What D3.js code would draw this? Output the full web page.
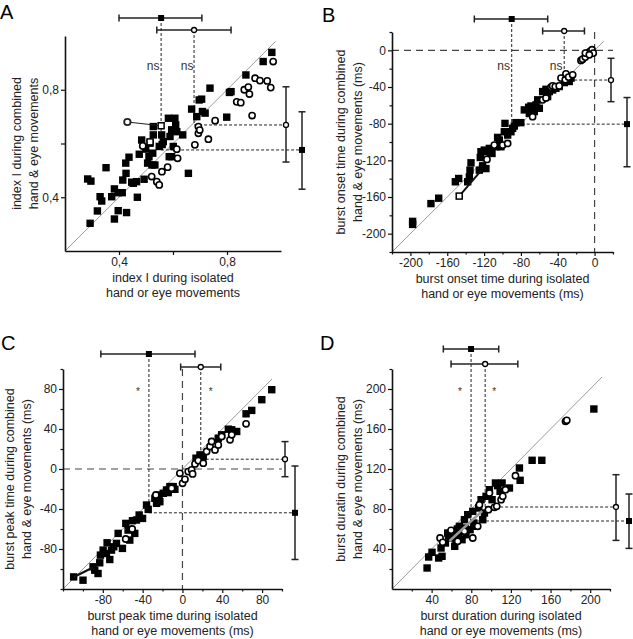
<!DOCTYPE html>
<html>
<head>
<meta charset="utf-8">
<script src="https://cdn.jsdelivr.net/npm/d3@7"></script>
<style>
  body { margin: 0; background: #fff; }
  svg { display: block; }
  text { font-family: "Liberation Sans", Arial, sans-serif; }
</style>
</head>
<body>
<svg id="chart" width="633" height="639"></svg>
<script>
// ---- panel A : index I ----
const aSquares = [[0.284,0.468],[0.296,0.460],[0.293,0.303],[0.320,0.349],[0.330,0.402],[0.336,0.386],[0.352,0.510],[0.373,0.402],[0.383,0.431],[0.397,0.350],[0.383,0.319],[0.397,0.417],[0.412,0.417],[0.414,0.464],[0.426,0.489],[0.425,0.527],[0.428,0.343],[0.437,0.549],[0.447,0.456],[0.453,0.452],[0.465,0.458],[0.468,0.400],[0.475,0.560],[0.484,0.613],[0.493,0.467],[0.499,0.579],[0.506,0.527],[0.511,0.551],[0.515,0.601],[0.522,0.520],[0.525,0.564],[0.527,0.663],[0.527,0.632],[0.533,0.520],[0.549,0.589],[0.558,0.632],[0.564,0.607],[0.583,0.694],[0.589,0.626],[0.595,0.651],[0.595,0.551],[0.607,0.694],[0.610,0.669],[0.614,0.644],[0.601,0.589],[0.636,0.632],[0.657,0.489],[0.669,0.728],[0.688,0.700],[0.697,0.762],[0.706,0.765],[0.709,0.719],[0.719,0.713],[0.737,0.806],[0.799,0.698],[0.809,0.790],[0.815,0.793],[0.870,0.855],[0.934,0.905],[0.966,0.939],[0.586,0.551],[0.560,0.596]];
const aCircles = [[0.488,0.591],[0.521,0.477],[0.540,0.458],[0.549,0.446],[0.559,0.495],[0.580,0.512],[0.614,0.579],[0.617,0.545],[0.681,0.595],[0.694,0.638],[0.694,0.663],[0.731,0.616],[0.756,0.685],[0.836,0.755],[0.851,0.752],[0.864,0.800],[0.879,0.810],[0.883,0.784],[0.893,0.704],[0.904,0.843],[0.922,0.834],[0.949,0.833],[0.962,0.808],[0.971,0.905],[0.699,0.650]];
const aOpenSquares = [[0.556,0.666],[0.515,0.606]];
const aLink = [[0.431,0.680],[0.556,0.666]];
// [x mean, x low, x high, y mean, y low, y high]
const aMeanSquares = [0.556,0.400,0.707,0.576,0.430,0.718];
const aMeanCircles = [0.678,0.540,0.815,0.669,0.531,0.811];
const aTicks = [0.4,0.6,0.8];
const aTickLabels = ["0,4","","0,8"];

// ---- panel B : burst onset ----
const bSquares = [[-197.6,-186.6],[-197.6,-189.9],[-177.7,-167.2],[-169.3,-161.3],[-151.2,-143.4],[-147.6,-139.8],[-136,-138],[-134.2,-122.7],[-137.8,-143.4],[-135.3,-130.7],[-125.2,-130.7],[-124.1,-116.9],[-121.6,-126],[-118,-129],[-123.4,-110.6],[-117.2,-110.6],[-114.3,-107],[-119.8,-108.8],[-111.4,-112.5],[-107.1,-105.2],[-105.3,-95],[-103.5,-97.9],[-101.7,-105.2],[-98,-88.8],[-97.3,-79.7],[-94.4,-92.4],[-90.8,-88.8],[-89,-85.1],[-87.2,-82.6],[-85.4,-78.9],[-80.1,-78.9],[-71.6,-62.1],[-69.1,-60.7],[-67.3,-65],[-65.5,-66.8],[-63.6,-59.5],[-61.8,-54],[-60,-63.2],[-56.4,-45],[-52.8,-42.5],[-51,-50.5],[-49.2,-45],[-45.6,-43.2],[-42,-41.4],[-38.4,-39.5],[-32.9,-35.2],[-27.5,-34],[-25.6,-30.3],[-70.9,-68.7],[-76.3,-65],[-113,-112]];
const bCircles = [[-116.9,-119],[-108.9,-103.4],[-99.8,-103.4],[-94.4,-101.6],[-67.3,-72.4],[-56.4,-54],[-52.8,-52],[-47.4,-40.2],[-45.6,-38.8],[-42.7,-39.5],[-38.4,-38.8],[-36.5,-30.3],[-31.8,-32.1],[-31.1,-25.6],[-28.2,-29.2],[-23.8,-26.7],[-14.8,-11],[-13,-9.6],[-10.1,-7.4],[-7.6,-3],[-5,-1.2],[-2.8,0.7],[-1.4,-3],[-10,-3],[-5.7,-4.8]];
const bOpenSquares = [[-147,-159]];
const bLink = [[-147,-159],[-123,-131]];
const bMeanSquares = [-90,-130.6,-50.9,-80.5,-127,-51.5];
const bMeanCircles = [-33,-56.4,-11,-32.4,-56,-8.7];
const bTicks = [-200,-160,-120,-80,-40,0];
const bMinorTicks = [-220,-180,-140,-100,-60,-20,20];

// ---- panel C : burst peak ----
const cSquares = [[-109.3,-107.9],[-99.9,-111.2],[-89.8,-97.8],[-88.1,-101.2],[-84.8,-104.5],[-83.1,-93.8],[-82.4,-86.1],[-79.7,-81.1],[-76.4,-84.5],[-75.7,-73.8],[-73,-90.5],[-71.3,-81.1],[-69,-77.8],[-66.3,-74.4],[-64.6,-64.4],[-60.3,-79.4],[-56.9,-54.4],[-54.6,-61.1],[-52.9,-71.1],[-50.2,-51.7],[-47.9,-64.4],[-46.2,-51],[-43.5,-46],[-40.1,-49.4],[-36.1,-36],[-34.4,-40.4],[-27.7,-29.3],[-26,-34.3],[-23.4,-26],[-22.7,-32.7],[-19.3,-24.3],[-16,-21],[-14.3,-23.6],[-12.6,-17.6],[-9.3,-17.6],[-7.6,-20.3],[13.6,10.8],[20.9,12.4],[36,30.8],[39.4,34.2],[46.1,39.8],[49.5,39.2],[54.5,37.5],[63.9,55.2],[69.6,58.6],[79.7,69.3],[89.7,79.3],[17.6,14.1]];
const cCircles = [[-26.7,-26],[-10.9,-19.3],[-2.6,-4.3],[0.1,-14.3],[2.5,-10.3],[5.8,-2.6],[9.2,-0.9],[10.2,-4.9],[12.6,5.1],[15.9,8.4],[20.9,5.8],[24.3,17.5],[27.7,22.5],[29.3,27.5],[32.7,19.1],[36,24.1],[39.4,32.5],[47.8,29.2],[49.5,34.2],[63.9,45.2],[-50.5,-60],[-57,-70]];
const cOpenSquares = [];
const cLink = [[-109,-108],[-90,-98.5]];
const cMeanSquares = [-33.7,-82,12.6,-43.8,-90.5,3];
const cMeanCircles = [18.4,-1.8,38.5,9.8,-7.7,27.4];
const cTicks = [-80,-40,0,40,80];
const cMinorTicks = [-120,-100,-60,-20,20,60,100];

// ---- panel D : burst duration ----
const dSquares = [[35.4,21],[37,32],[40.4,36.7],[47.1,31],[50.5,32.7],[49.5,41],[53.9,46],[56.2,56],[59.6,51],[61.3,56.7],[63.3,42.7],[64.6,49.3],[67.3,56],[68,62.7],[70.7,49.3],[73.1,69.3],[74.1,61],[74.7,54.3],[76.4,74.3],[78.8,59.3],[81.5,77.7],[82.5,66],[84.8,62.7],[87.5,81],[89.9,89.3],[91.6,69.3],[93.3,76],[94.9,92.7],[98.3,99.3],[101,89.3],[104.4,106],[106.7,103.3],[109.1,97.7],[111.1,106],[118.5,101],[128.6,121],[129.3,108.7],[141.4,128.7],[151.2,128.7],[203.7,180],[57,53],[66,60]];
const dCircles = [[48.5,51],[51.2,46.7],[59.6,58.7],[66.3,47.7],[73.1,57.7],[81.5,51],[86.5,62.7],[88.2,84.3],[97.3,79.3],[98.3,96],[103.4,81.7],[105.7,82.7],[110.1,89.3],[111.8,92.7],[114.5,99.3],[124.6,113.3],[175.1,167.7],[176.4,168.7]];
const dOpenSquares = [];
const dLink = [[58,48],[91,78]];
const dMeanSquares = [79.8,51.8,107.7,68,40.6,95];
const dMeanCircles = [94,59.6,127,82,48.6,114.3];
const dTicks = [40,80,120,160,200];
const dMinorTicks = [20,60,100,140,180,220];

const svg = d3.select("#chart");

const panels = [
  { letter: "A", lx: 0, ly: 19, domain: [0.2, 1.0], diagEnd: 0.98,
    box: { left: 65, right: 281, top: 36, bottom: 251 },
    squares: aSquares, circles: aCircles, openSquares: aOpenSquares,
    link: aLink, linkColor: "#222", linkWidth: 1.2, linkStartCircle: true,
    means: [aMeanSquares, aMeanCircles], topY: [18, 30], rightX: [302, 286],
    ticks: aTicks, tickLabels: aTickLabels, minor: [],
    sig: ["ns", "ns"], sigDx: [-8, -7], sigY: 70, sigSize: 12,
    xTitle: ["index I during isolated", "hand or eye movements"],
    yTitle: ["index I during combined", "hand & eye movements"], yTitleDx: [-44, -27] },
  { letter: "B", lx: 322, ly: 22, domain: [-220, 20], diagEnd: 10, zero: true,
    box: { left: 392, right: 613, top: 32, bottom: 252 },
    squares: bSquares, circles: bCircles, openSquares: bOpenSquares,
    link: bLink, linkColor: "#111", linkWidth: 2,
    means: [bMeanSquares, bMeanCircles], topY: [19, 31], rightX: [627, 611],
    ticks: bTicks, minor: bMinorTicks,
    sig: ["ns", "ns"], sigDx: [-8, -8], sigY: 70, sigSize: 12,
    xTitle: ["burst onset time during isolated", "hand or eye movements (ms)"],
    yTitle: ["burst onset time during combined", "hand & eye movements (ms)"], yTitleDx: [-47, -30] },
  { letter: "C", lx: 1, ly: 350, domain: [-120, 100], diagEnd: 90, zero: true,
    box: { left: 63, right: 282, top: 369, bottom: 589 },
    squares: cSquares, circles: cCircles, openSquares: cOpenSquares,
    link: cLink, linkColor: "#111", linkWidth: 2,
    means: [cMeanSquares, cMeanCircles], topY: [354, 367], rightX: [295, 285],
    ticks: cTicks, minor: cMinorTicks,
    sig: ["*", "*"], sigDx: [-11, 10], sigY: 395, sigSize: 10,
    xTitle: ["burst peak time during isolated", "hand or eye movements (ms)"],
    yTitle: ["burst peak time during combined", "hand & eye movements (ms)"], yTitleDx: [-49, -32] },
  { letter: "D", lx: 320, ly: 350, domain: [0, 220], diagEnd: 212,
    box: { left: 392, right: 610, top: 369, bottom: 589 },
    squares: dSquares, circles: dCircles, openSquares: dOpenSquares,
    link: dLink, linkColor: "#999", linkWidth: 2.5,
    means: [dMeanSquares, dMeanCircles], topY: [349, 364], rightX: [629, 616],
    ticks: dTicks, minor: dMinorTicks,
    sig: ["*", "*"], sigDx: [-11, 9], sigY: 395, sigSize: 10,
    xTitle: ["burst duration during isolated", "hand or eye movements (ms)"],
    yTitle: ["burst duratin during combined", "hand & eye movements (ms)"], yTitleDx: [-47, -30] },
];

function drawPanel(p) {
  const g = svg.append("g");
  const b = p.box;
  const x = d3.scaleLinear().domain(p.domain).range([b.left, b.right]);
  const y = d3.scaleLinear().domain(p.domain).range([b.bottom, b.top]);

  // identity line
  g.append("line")
    .attr("x1", x(p.domain[0])).attr("y1", y(p.domain[0]))
    .attr("x2", x(p.diagEnd)).attr("y2", y(p.diagEnd))
    .attr("stroke", "#9a9a9a").attr("stroke-width", 1);

  // zero lines
  if (p.zero) {
    g.append("line")
      .attr("x1", b.left).attr("x2", b.right).attr("y1", y(0)).attr("y2", y(0))
      .attr("stroke", "#444").attr("stroke-width", 1.2).attr("stroke-dasharray", "7,5");
    g.append("line")
      .attr("x1", x(0)).attr("x2", x(0)).attr("y1", b.top).attr("y2", b.bottom)
      .attr("stroke", "#444").attr("stroke-width", 1.2).attr("stroke-dasharray", "7,5");
  }

  // dashed lines from the means
  p.means.forEach((m, i) => {
    g.append("line")
      .attr("x1", x(m[0])).attr("x2", x(m[0])).attr("y1", p.topY[i]).attr("y2", y(m[3]))
      .attr("stroke", "#222").attr("stroke-width", 1).attr("stroke-dasharray", "3,2");
    g.append("line")
      .attr("x1", x(m[0])).attr("x2", p.rightX[i]).attr("y1", y(m[3])).attr("y2", y(m[3]))
      .attr("stroke", "#222").attr("stroke-width", 1).attr("stroke-dasharray", "3,2");
  });

  // significance marks
  p.means.forEach((m, i) => {
    g.append("text")
      .attr("x", x(m[0]) + p.sigDx[i]).attr("y", p.sigY)
      .attr("text-anchor", "middle").attr("fill", "#333")
      .style("font-size", `${p.sigSize}px`)
      .text(p.sig[i]);
  });

  // points
  const sq = 7.4;
  g.selectAll(".sq").data(p.squares).enter().append("rect")
    .attr("x", (d) => x(d[0]) - sq / 2).attr("y", (d) => y(d[1]) - sq / 2)
    .attr("width", sq).attr("height", sq).attr("fill", "#000");

  g.selectAll(".ci").data(p.circles).enter().append("circle")
    .attr("cx", (d) => x(d[0])).attr("cy", (d) => y(d[1])).attr("r", 3.1)
    .attr("fill", "#fff").attr("stroke", "#000").attr("stroke-width", 1.6);

  // highlighted example
  g.append("path")
    .attr("d", d3.line().x((d) => x(d[0])).y((d) => y(d[1]))(p.link))
    .attr("fill", "none").attr("stroke", p.linkColor).attr("stroke-width", p.linkWidth);
  if (p.linkStartCircle) {
    g.append("circle")
      .attr("cx", x(p.link[0][0])).attr("cy", y(p.link[0][1])).attr("r", 3.2)
      .attr("fill", "#fff").attr("stroke", "#222").attr("stroke-width", 1.8);
  }
  g.selectAll(".osq").data(p.openSquares).enter().append("rect")
    .attr("x", (d) => x(d[0]) - 3).attr("y", (d) => y(d[1]) - 3)
    .attr("width", 6).attr("height", 6)
    .attr("fill", "#fff").attr("stroke", "#000").attr("stroke-width", 1.5);

  // error bars
  p.means.forEach((m, i) => {
    const ty = p.topY[i];
    const rx = p.rightX[i];
    const eb = g.append("g").attr("stroke", "#222").attr("stroke-width", 1.5);
    eb.append("line").attr("x1", x(m[1])).attr("x2", x(m[2])).attr("y1", ty).attr("y2", ty);
    eb.append("line").attr("x1", x(m[1])).attr("x2", x(m[1])).attr("y1", ty - 3.5).attr("y2", ty + 3.5);
    eb.append("line").attr("x1", x(m[2])).attr("x2", x(m[2])).attr("y1", ty - 3.5).attr("y2", ty + 3.5);
    eb.append("line").attr("x1", rx).attr("x2", rx).attr("y1", y(m[4])).attr("y2", y(m[5]));
    eb.append("line").attr("x1", rx - 3.5).attr("x2", rx + 3.5).attr("y1", y(m[4])).attr("y2", y(m[4]));
    eb.append("line").attr("x1", rx - 3.5).attr("x2", rx + 3.5).attr("y1", y(m[5])).attr("y2", y(m[5]));
    const spots = [[x(m[0]), ty], [rx, y(m[3])]];
    spots.forEach(([cx, cy]) => {
      if (i === 0) {
        g.append("rect").attr("x", cx - 3).attr("y", cy - 3).attr("width", 6).attr("height", 6).attr("fill", "#000");
      } else {
        g.append("circle").attr("cx", cx).attr("cy", cy).attr("r", 2.5)
          .attr("fill", "#fff").attr("stroke", "#000").attr("stroke-width", 1.3);
      }
    });
  });

  // axes
  const fmt = p.tickLabels ? (d, i) => p.tickLabels[i] : (d) => String(d);
  const xAxis = d3.axisBottom(x).tickValues(p.ticks).tickFormat(fmt).tickSize(4).tickSizeOuter(0).tickPadding(2);
  const yAxis = d3.axisLeft(y).tickValues(p.ticks).tickFormat(fmt).tickSize(4).tickSizeOuter(0).tickPadding(2);
  const gx = g.append("g").attr("transform", `translate(0,${b.bottom})`).call(xAxis);
  const gy = g.append("g").attr("transform", `translate(${b.left},0)`).call(yAxis);
  if (p.minor.length) {
    g.append("g").attr("transform", `translate(0,${b.bottom})`)
      .call(d3.axisBottom(x).tickValues(p.minor).tickFormat("").tickSize(2.5).tickSizeOuter(0))
      .select(".domain").remove();
    g.append("g").attr("transform", `translate(${b.left},0)`)
      .call(d3.axisLeft(y).tickValues(p.minor).tickFormat("").tickSize(2.5).tickSizeOuter(0))
      .select(".domain").remove();
  }
  g.selectAll(".domain").attr("stroke", "#111").attr("stroke-width", 1.6);
  g.selectAll(".tick line").attr("stroke", "#111").attr("stroke-width", 1.2);
  [gx, gy].forEach((a) => a.selectAll("text")
    .style("font-size", "12px").style("font-family", "'Liberation Sans', Arial, sans-serif").attr("fill", "#222"));

  // titles
  const cx = (b.left + b.right) / 2;
  const cy = (b.top + b.bottom) / 2;
  p.xTitle.forEach((t, i) => {
    g.append("text").attr("x", cx).attr("y", b.bottom + 31 + i * 15)
      .attr("text-anchor", "middle").attr("fill", "#222").style("font-size", "12.5px").text(t);
  });
  p.yTitle.forEach((t, i) => {
    g.append("text")
      .attr("transform", `translate(${b.left + p.yTitleDx[i]},${cy}) rotate(-90)`)
      .attr("text-anchor", "middle").attr("fill", "#222").style("font-size", "12.5px").text(t);
  });

  svg.append("text").attr("x", p.lx).attr("y", p.ly)
    .attr("fill", "#000").style("font-size", "20px").text(p.letter);
}

panels.forEach(drawPanel);
</script>
</body>
</html>
